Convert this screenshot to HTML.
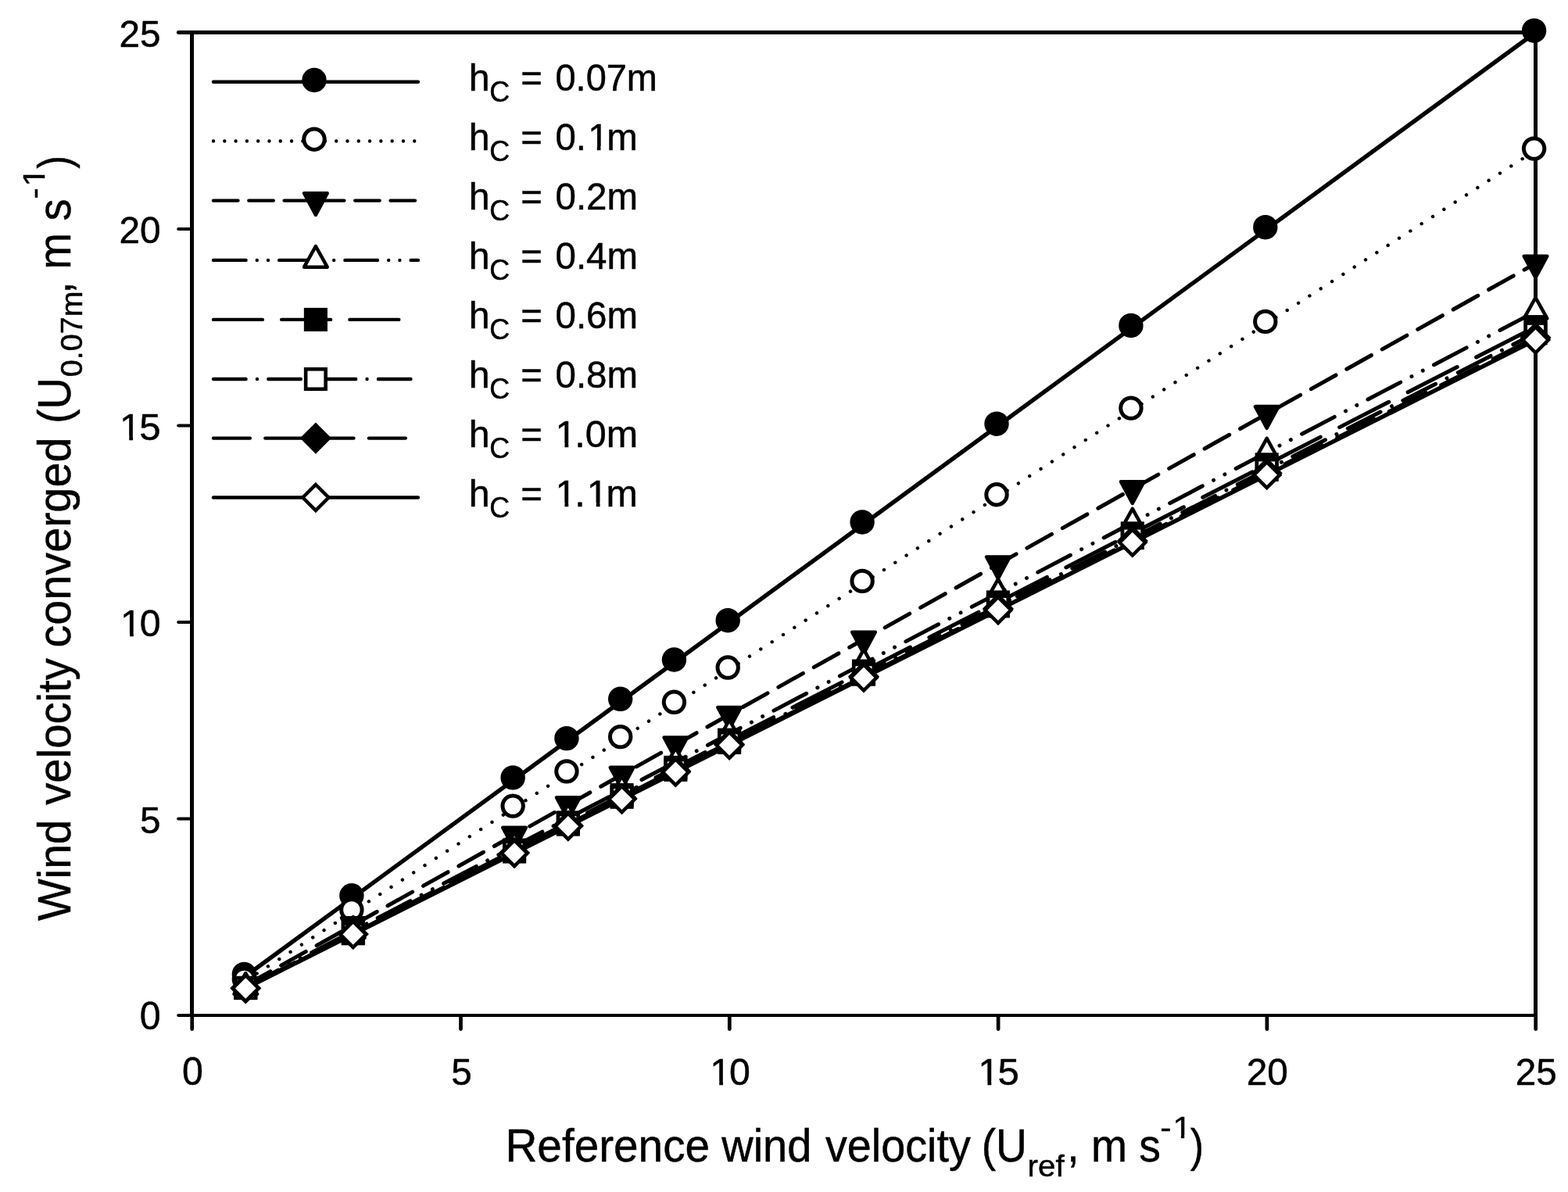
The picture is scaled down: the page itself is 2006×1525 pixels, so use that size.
<!DOCTYPE html>
<html lang="en">
<head>
<meta charset="utf-8">
<title>Wind velocity converged vs reference wind velocity</title>
<style>
html,body{margin:0;padding:0;background:#fff;}
body{width:2006px;height:1525px;overflow:hidden;}
svg{display:block;}
</style>
</head>
<body>
<svg width="2006" height="1525" viewBox="0 0 2006 1525" role="img" aria-label="Wind velocity converged versus reference wind velocity for eight canopy heights">
<rect width="2006" height="1525" fill="#fff"/>
<g fill="#000">
<rect x="243" y="39" width="5" height="1262"/>
<rect x="1962" y="39" width="5" height="1262"/>
<rect x="243" y="39" width="1724" height="5"/>
<rect x="243" y="1297" width="1724" height="4"/>
</g>
<g>
<line x1="228.3" y1="1299" x2="245" y2="1299" stroke="#000" stroke-width="4.2" stroke-linecap="round"/>
<line x1="245.7" y1="1316.6" x2="245.7" y2="1300" stroke="#000" stroke-width="4.7" stroke-linecap="round"/>
<line x1="228.3" y1="1047.5" x2="245" y2="1047.5" stroke="#000" stroke-width="4.2" stroke-linecap="round"/>
<line x1="589.5" y1="1316.6" x2="589.5" y2="1300" stroke="#000" stroke-width="4.7" stroke-linecap="round"/>
<line x1="228.3" y1="796" x2="245" y2="796" stroke="#000" stroke-width="4.2" stroke-linecap="round"/>
<line x1="933.3" y1="1316.6" x2="933.3" y2="1300" stroke="#000" stroke-width="4.7" stroke-linecap="round"/>
<line x1="228.3" y1="544.5" x2="245" y2="544.5" stroke="#000" stroke-width="4.2" stroke-linecap="round"/>
<line x1="1277.1" y1="1316.6" x2="1277.1" y2="1300" stroke="#000" stroke-width="4.7" stroke-linecap="round"/>
<line x1="228.3" y1="293" x2="245" y2="293" stroke="#000" stroke-width="4.2" stroke-linecap="round"/>
<line x1="1620.9" y1="1316.6" x2="1620.9" y2="1300" stroke="#000" stroke-width="4.7" stroke-linecap="round"/>
<line x1="228.3" y1="41.5" x2="245" y2="41.5" stroke="#000" stroke-width="4.8" stroke-linecap="round"/>
<line x1="1964.7" y1="1316.6" x2="1964.7" y2="1300" stroke="#000" stroke-width="4.7" stroke-linecap="round"/>
</g>
<g font-family="'Liberation Sans', Arial, Helvetica, sans-serif" fill="#000" stroke="#000" stroke-width="0.5" stroke-linejoin="round" style="font-kerning:none">
<text transform="translate(178.78 1317) scale(0.9853 1)" font-size="49">0</text>
<text transform="translate(179.1 1065.5) scale(0.9726 1)" font-size="49">5</text>
<g transform="translate(151.93 814) scale(0.9852 1)"><text font-size="49" dx="2.21 -2.21">10</text><rect x="3.69" y="-4.71" width="10.59" height="7.46" fill="#fff" stroke="none"/><rect x="19.11" y="-4.71" width="9.81" height="7.46" fill="#fff" stroke="none"/></g>
<g transform="translate(150.9 562.5) scale(1.0047 1)"><text font-size="49" dx="2.21 -2.21">15</text><rect x="3.69" y="-4.71" width="10.59" height="7.46" fill="#fff" stroke="none"/><rect x="19.11" y="-4.71" width="9.81" height="7.46" fill="#fff" stroke="none"/></g>
<text transform="translate(152.51 311) scale(0.9743 1)" font-size="49">20</text>
<text transform="translate(152.61 59.5) scale(0.9723 1)" font-size="49">25</text>
<text transform="translate(233.03 1388) scale(0.9853 1)" font-size="49">0</text>
<text transform="translate(577.31 1388) scale(0.9726 1)" font-size="49">5</text>
<g transform="translate(906.13 1388) scale(0.9852 1)"><text font-size="49" dx="2.21 -2.21">10</text><rect x="3.69" y="-4.71" width="10.59" height="7.46" fill="#fff" stroke="none"/><rect x="19.11" y="-4.71" width="9.81" height="7.46" fill="#fff" stroke="none"/></g>
<g transform="translate(1249.1 1388) scale(1.0047 1)"><text font-size="49" dx="2.21 -2.21">15</text><rect x="3.69" y="-4.71" width="10.59" height="7.46" fill="#fff" stroke="none"/><rect x="19.11" y="-4.71" width="9.81" height="7.46" fill="#fff" stroke="none"/></g>
<text transform="translate(1594.71 1388) scale(0.9743 1)" font-size="49">20</text>
<text transform="translate(1938.71 1388) scale(0.9723 1)" font-size="49">25</text>
</g>
<g>
<line x1="314.26" y1="1248.7" x2="1964.5" y2="41.5" stroke="#000" stroke-width="5.4" stroke-linecap="round"/>
<circle cx="312.36" cy="1246.4" r="13.2" fill="#000" stroke="#000" stroke-width="5"/>
<circle cx="449.88" cy="1145.8" r="13.2" fill="#000" stroke="#000" stroke-width="5"/>
<circle cx="656.16" cy="994.9" r="13.2" fill="#000" stroke="#000" stroke-width="5"/>
<circle cx="724.92" cy="944.6" r="13.2" fill="#000" stroke="#000" stroke-width="5"/>
<circle cx="793.68" cy="894.3" r="13.2" fill="#000" stroke="#000" stroke-width="5"/>
<circle cx="862.44" cy="844" r="13.2" fill="#000" stroke="#000" stroke-width="5"/>
<circle cx="931.2" cy="793.7" r="13.2" fill="#000" stroke="#000" stroke-width="5"/>
<circle cx="1103.1" cy="667.95" r="13.2" fill="#000" stroke="#000" stroke-width="5"/>
<circle cx="1275" cy="542.2" r="13.2" fill="#000" stroke="#000" stroke-width="5"/>
<circle cx="1446.9" cy="416.45" r="13.2" fill="#000" stroke="#000" stroke-width="5"/>
<circle cx="1618.8" cy="290.7" r="13.2" fill="#000" stroke="#000" stroke-width="5"/>
<circle cx="1962.6" cy="39.2" r="13.2" fill="#000" stroke="#000" stroke-width="5"/>
</g>
<g>
<line x1="314.26" y1="1254.74" x2="1964.5" y2="192.4" stroke="#000" stroke-width="4.4" stroke-linecap="round" stroke-dasharray="0.01 17.03"/>
<circle cx="312.36" cy="1252.44" r="13.2" fill="#fff" stroke="#000" stroke-width="5"/>
<circle cx="449.88" cy="1163.91" r="13.2" fill="#fff" stroke="#000" stroke-width="5"/>
<circle cx="656.16" cy="1031.12" r="13.2" fill="#fff" stroke="#000" stroke-width="5"/>
<circle cx="724.92" cy="986.85" r="13.2" fill="#fff" stroke="#000" stroke-width="5"/>
<circle cx="793.68" cy="942.59" r="13.2" fill="#fff" stroke="#000" stroke-width="5"/>
<circle cx="862.44" cy="898.32" r="13.2" fill="#fff" stroke="#000" stroke-width="5"/>
<circle cx="931.2" cy="854.06" r="13.2" fill="#fff" stroke="#000" stroke-width="5"/>
<circle cx="1103.1" cy="743.4" r="13.2" fill="#fff" stroke="#000" stroke-width="5"/>
<circle cx="1275" cy="632.74" r="13.2" fill="#fff" stroke="#000" stroke-width="5"/>
<circle cx="1446.9" cy="522.08" r="13.2" fill="#fff" stroke="#000" stroke-width="5"/>
<circle cx="1618.8" cy="411.42" r="13.2" fill="#fff" stroke="#000" stroke-width="5"/>
<circle cx="1962.6" cy="190.1" r="13.2" fill="#fff" stroke="#000" stroke-width="5"/>
</g>
<g>
<line x1="314.26" y1="1260.52" x2="1964.5" y2="337.01" stroke="#000" stroke-width="5" stroke-linecap="round" stroke-dasharray="36.21 15.86"/>
<polygon points="299.46,1251.22 329.06,1251.22 314.26,1278.82" fill="#000" stroke="#000" stroke-width="4.5" stroke-linejoin="round"/>
<polygon points="436.98,1174.26 466.58,1174.26 451.78,1201.86" fill="#000" stroke="#000" stroke-width="4.5" stroke-linejoin="round"/>
<polygon points="643.26,1058.82 672.86,1058.82 658.06,1086.42" fill="#000" stroke="#000" stroke-width="4.5" stroke-linejoin="round"/>
<polygon points="712.02,1020.34 741.62,1020.34 726.82,1047.94" fill="#000" stroke="#000" stroke-width="4.5" stroke-linejoin="round"/>
<polygon points="780.78,981.86 810.38,981.86 795.58,1009.46" fill="#000" stroke="#000" stroke-width="4.5" stroke-linejoin="round"/>
<polygon points="849.54,943.38 879.14,943.38 864.34,970.98" fill="#000" stroke="#000" stroke-width="4.5" stroke-linejoin="round"/>
<polygon points="918.3,904.9 947.9,904.9 933.1,932.5" fill="#000" stroke="#000" stroke-width="4.5" stroke-linejoin="round"/>
<polygon points="1090.2,808.71 1119.8,808.71 1105,836.31" fill="#000" stroke="#000" stroke-width="4.5" stroke-linejoin="round"/>
<polygon points="1262.1,712.51 1291.7,712.51 1276.9,740.11" fill="#000" stroke="#000" stroke-width="4.5" stroke-linejoin="round"/>
<polygon points="1434,616.31 1463.6,616.31 1448.8,643.91" fill="#000" stroke="#000" stroke-width="4.5" stroke-linejoin="round"/>
<polygon points="1605.9,520.11 1635.5,520.11 1620.7,547.71" fill="#000" stroke="#000" stroke-width="4.5" stroke-linejoin="round"/>
<polygon points="1949.7,327.71 1979.3,327.71 1964.5,355.31" fill="#000" stroke="#000" stroke-width="4.5" stroke-linejoin="round"/>
</g>
<g>
<line x1="314.26" y1="1262.99" x2="1964.5" y2="398.63" stroke="#000" stroke-width="5" stroke-linecap="round" stroke-dasharray="47.1 16.08 0.01 16.08 0.01 16.06"/>
<polygon points="314.26,1245.09 329.06,1271.79 299.46,1271.79" fill="#fff" stroke="#000" stroke-width="4.5" stroke-linejoin="round"/>
<polygon points="451.78,1173.06 466.58,1199.76 436.98,1199.76" fill="#fff" stroke="#000" stroke-width="4.5" stroke-linejoin="round"/>
<polygon points="658.06,1065.01 672.86,1091.71 643.26,1091.71" fill="#fff" stroke="#000" stroke-width="4.5" stroke-linejoin="round"/>
<polygon points="726.82,1029 741.62,1055.7 712.02,1055.7" fill="#fff" stroke="#000" stroke-width="4.5" stroke-linejoin="round"/>
<polygon points="795.58,992.98 810.38,1019.68 780.78,1019.68" fill="#fff" stroke="#000" stroke-width="4.5" stroke-linejoin="round"/>
<polygon points="864.34,956.97 879.14,983.67 849.54,983.67" fill="#fff" stroke="#000" stroke-width="4.5" stroke-linejoin="round"/>
<polygon points="933.1,920.95 947.9,947.65 918.3,947.65" fill="#fff" stroke="#000" stroke-width="4.5" stroke-linejoin="round"/>
<polygon points="1105,830.92 1119.8,857.62 1090.2,857.62" fill="#fff" stroke="#000" stroke-width="4.5" stroke-linejoin="round"/>
<polygon points="1276.9,740.88 1291.7,767.58 1262.1,767.58" fill="#fff" stroke="#000" stroke-width="4.5" stroke-linejoin="round"/>
<polygon points="1448.8,650.84 1463.6,677.54 1434,677.54" fill="#fff" stroke="#000" stroke-width="4.5" stroke-linejoin="round"/>
<polygon points="1620.7,560.8 1635.5,587.5 1605.9,587.5" fill="#fff" stroke="#000" stroke-width="4.5" stroke-linejoin="round"/>
<polygon points="1964.5,380.73 1979.3,407.43 1949.7,407.43" fill="#fff" stroke="#000" stroke-width="4.5" stroke-linejoin="round"/>
</g>
<g>
<line x1="314.26" y1="1263.76" x2="1964.5" y2="418.12" stroke="#000" stroke-width="5" stroke-linecap="round" stroke-dasharray="70.89 27.39"/>
<rect x="301.51" y="1251.01" width="25.5" height="25.5" fill="#000" stroke="#000" stroke-width="4.6"/>
<rect x="439.03" y="1180.54" width="25.5" height="25.5" fill="#000" stroke="#000" stroke-width="4.6"/>
<rect x="645.31" y="1074.84" width="25.5" height="25.5" fill="#000" stroke="#000" stroke-width="4.6"/>
<rect x="714.07" y="1039.6" width="25.5" height="25.5" fill="#000" stroke="#000" stroke-width="4.6"/>
<rect x="782.83" y="1004.37" width="25.5" height="25.5" fill="#000" stroke="#000" stroke-width="4.6"/>
<rect x="851.59" y="969.13" width="25.5" height="25.5" fill="#000" stroke="#000" stroke-width="4.6"/>
<rect x="920.35" y="933.9" width="25.5" height="25.5" fill="#000" stroke="#000" stroke-width="4.6"/>
<rect x="1092.25" y="845.81" width="25.5" height="25.5" fill="#000" stroke="#000" stroke-width="4.6"/>
<rect x="1264.15" y="757.72" width="25.5" height="25.5" fill="#000" stroke="#000" stroke-width="4.6"/>
<rect x="1436.05" y="669.63" width="25.5" height="25.5" fill="#000" stroke="#000" stroke-width="4.6"/>
<rect x="1607.95" y="581.55" width="25.5" height="25.5" fill="#000" stroke="#000" stroke-width="4.6"/>
<rect x="1951.75" y="405.37" width="25.5" height="25.5" fill="#000" stroke="#000" stroke-width="4.6"/>
</g>
<g>
<line x1="314.26" y1="1264.09" x2="1964.5" y2="426.3" stroke="#000" stroke-width="5" stroke-linecap="round" stroke-dasharray="46.79 16.14 0.01 16.13"/>
<rect x="301.51" y="1251.34" width="25.5" height="25.5" fill="#fff" stroke="#000" stroke-width="4.6"/>
<rect x="439.03" y="1181.53" width="25.5" height="25.5" fill="#fff" stroke="#000" stroke-width="4.6"/>
<rect x="645.31" y="1076.8" width="25.5" height="25.5" fill="#fff" stroke="#000" stroke-width="4.6"/>
<rect x="714.07" y="1041.89" width="25.5" height="25.5" fill="#fff" stroke="#000" stroke-width="4.6"/>
<rect x="782.83" y="1006.98" width="25.5" height="25.5" fill="#fff" stroke="#000" stroke-width="4.6"/>
<rect x="851.59" y="972.08" width="25.5" height="25.5" fill="#fff" stroke="#000" stroke-width="4.6"/>
<rect x="920.35" y="937.17" width="25.5" height="25.5" fill="#fff" stroke="#000" stroke-width="4.6"/>
<rect x="1092.25" y="849.9" width="25.5" height="25.5" fill="#fff" stroke="#000" stroke-width="4.6"/>
<rect x="1264.15" y="762.63" width="25.5" height="25.5" fill="#fff" stroke="#000" stroke-width="4.6"/>
<rect x="1436.05" y="675.36" width="25.5" height="25.5" fill="#fff" stroke="#000" stroke-width="4.6"/>
<rect x="1607.95" y="588.09" width="25.5" height="25.5" fill="#fff" stroke="#000" stroke-width="4.6"/>
<rect x="1951.75" y="413.55" width="25.5" height="25.5" fill="#fff" stroke="#000" stroke-width="4.6"/>
</g>
<g>
<line x1="314.26" y1="1264.32" x2="1964.5" y2="431.95" stroke="#000" stroke-width="5" stroke-linecap="round" stroke-dasharray="52.69 21.79"/>
<polygon points="314.26,1247.42 331.16,1264.32 314.26,1281.22 297.36,1264.32" fill="#000" stroke="#000" stroke-width="4.5" stroke-linejoin="miter"/>
<polygon points="451.78,1178.05 468.68,1194.95 451.78,1211.85 434.88,1194.95" fill="#000" stroke="#000" stroke-width="4.5" stroke-linejoin="miter"/>
<polygon points="658.06,1074.01 674.96,1090.91 658.06,1107.81 641.16,1090.91" fill="#000" stroke="#000" stroke-width="4.5" stroke-linejoin="miter"/>
<polygon points="726.82,1039.33 743.72,1056.23 726.82,1073.13 709.92,1056.23" fill="#000" stroke="#000" stroke-width="4.5" stroke-linejoin="miter"/>
<polygon points="795.58,1004.65 812.48,1021.55 795.58,1038.45 778.68,1021.55" fill="#000" stroke="#000" stroke-width="4.5" stroke-linejoin="miter"/>
<polygon points="864.34,969.96 881.24,986.86 864.34,1003.76 847.44,986.86" fill="#000" stroke="#000" stroke-width="4.5" stroke-linejoin="miter"/>
<polygon points="933.1,935.28 950,952.18 933.1,969.08 916.2,952.18" fill="#000" stroke="#000" stroke-width="4.5" stroke-linejoin="miter"/>
<polygon points="1105,848.58 1121.9,865.48 1105,882.38 1088.1,865.48" fill="#000" stroke="#000" stroke-width="4.5" stroke-linejoin="miter"/>
<polygon points="1276.9,761.87 1293.8,778.77 1276.9,795.67 1260,778.77" fill="#000" stroke="#000" stroke-width="4.5" stroke-linejoin="miter"/>
<polygon points="1448.8,675.17 1465.7,692.07 1448.8,708.97 1431.9,692.07" fill="#000" stroke="#000" stroke-width="4.5" stroke-linejoin="miter"/>
<polygon points="1620.7,588.46 1637.6,605.36 1620.7,622.26 1603.8,605.36" fill="#000" stroke="#000" stroke-width="4.5" stroke-linejoin="miter"/>
<polygon points="1964.5,415.05 1981.4,431.95 1964.5,448.85 1947.6,431.95" fill="#000" stroke="#000" stroke-width="4.5" stroke-linejoin="miter"/>
</g>
<g>
<line x1="314.26" y1="1264.43" x2="1964.5" y2="434.85" stroke="#000" stroke-width="5.4" stroke-linecap="round"/>
<polygon points="314.26,1247.93 330.76,1264.43 314.26,1280.93 297.76,1264.43" fill="#fff" stroke="#000" stroke-width="4.5" stroke-linejoin="miter"/>
<polygon points="451.78,1178.8 468.28,1195.3 451.78,1211.8 435.28,1195.3" fill="#fff" stroke="#000" stroke-width="4.5" stroke-linejoin="miter"/>
<polygon points="658.06,1075.1 674.56,1091.6 658.06,1108.1 641.56,1091.6" fill="#fff" stroke="#000" stroke-width="4.5" stroke-linejoin="miter"/>
<polygon points="726.82,1040.54 743.32,1057.04 726.82,1073.54 710.32,1057.04" fill="#fff" stroke="#000" stroke-width="4.5" stroke-linejoin="miter"/>
<polygon points="795.58,1005.97 812.08,1022.47 795.58,1038.97 779.08,1022.47" fill="#fff" stroke="#000" stroke-width="4.5" stroke-linejoin="miter"/>
<polygon points="864.34,971.4 880.84,987.9 864.34,1004.4 847.84,987.9" fill="#fff" stroke="#000" stroke-width="4.5" stroke-linejoin="miter"/>
<polygon points="933.1,936.84 949.6,953.34 933.1,969.84 916.6,953.34" fill="#fff" stroke="#000" stroke-width="4.5" stroke-linejoin="miter"/>
<polygon points="1105,850.42 1121.5,866.92 1105,883.42 1088.5,866.92" fill="#fff" stroke="#000" stroke-width="4.5" stroke-linejoin="miter"/>
<polygon points="1276.9,764.01 1293.4,780.51 1276.9,797.01 1260.4,780.51" fill="#fff" stroke="#000" stroke-width="4.5" stroke-linejoin="miter"/>
<polygon points="1448.8,677.59 1465.3,694.09 1448.8,710.59 1432.3,694.09" fill="#fff" stroke="#000" stroke-width="4.5" stroke-linejoin="miter"/>
<polygon points="1620.7,591.18 1637.2,607.68 1620.7,624.18 1604.2,607.68" fill="#fff" stroke="#000" stroke-width="4.5" stroke-linejoin="miter"/>
<polygon points="1964.5,418.35 1981,434.85 1964.5,451.35 1948,434.85" fill="#fff" stroke="#000" stroke-width="4.5" stroke-linejoin="miter"/>
</g>
<g>
<line x1="273" y1="104.8" x2="534.9" y2="104.8" stroke="#000" stroke-width="4.4" stroke-linecap="round"/>
<circle cx="402" cy="102.5" r="13.2" fill="#000" stroke="#000" stroke-width="5"/>
<line x1="273" y1="180.5" x2="534.9" y2="180.5" stroke="#000" stroke-width="4.4" stroke-linecap="round" stroke-dasharray="0.01 14.28"/>
<circle cx="402" cy="178.2" r="13.2" fill="#fff" stroke="#000" stroke-width="5"/>
<line x1="273" y1="256.6" x2="534.9" y2="256.6" stroke="#000" stroke-width="4.4" stroke-linecap="round" stroke-dasharray="31.5 13.8"/>
<polygon points="389.1,247.3 418.7,247.3 403.9,274.9" fill="#000" stroke="#000" stroke-width="4.5" stroke-linejoin="round"/>
<line x1="273" y1="332.9" x2="534.9" y2="332.9" stroke="#000" stroke-width="4.4" stroke-linecap="round" stroke-dasharray="41.6 14.2 0.01 14.2 0.01 14.18"/>
<polygon points="403.9,315 418.7,341.7 389.1,341.7" fill="#fff" stroke="#000" stroke-width="4.5" stroke-linejoin="round"/>
<line x1="273" y1="408.9" x2="528" y2="408.9" stroke="#000" stroke-width="4.4" stroke-linecap="round" stroke-dasharray="62.9 24.3"/>
<rect x="391.15" y="396.15" width="25.5" height="25.5" fill="#000" stroke="#000" stroke-width="4.6"/>
<line x1="273" y1="485" x2="534.9" y2="485" stroke="#000" stroke-width="4.4" stroke-linecap="round" stroke-dasharray="41.6 14.35 0.01 14.34"/>
<rect x="391.15" y="472.25" width="25.5" height="25.5" fill="#fff" stroke="#000" stroke-width="4.6"/>
<line x1="273" y1="560.6" x2="530" y2="560.6" stroke="#000" stroke-width="4.4" stroke-linecap="round" stroke-dasharray="46.9 19.4"/>
<polygon points="403.9,543.7 420.8,560.6 403.9,577.5 387,560.6" fill="#000" stroke="#000" stroke-width="4.5" stroke-linejoin="miter"/>
<line x1="273" y1="636.5" x2="534.9" y2="636.5" stroke="#000" stroke-width="4.4" stroke-linecap="round"/>
<polygon points="403.9,620 420.4,636.5 403.9,653 387.4,636.5" fill="#fff" stroke="#000" stroke-width="4.5" stroke-linejoin="miter"/>
</g>
<g font-family="'Liberation Sans', Arial, Helvetica, sans-serif" fill="#000" stroke="#000" stroke-width="0.5" stroke-linejoin="round" style="font-kerning:none">
<text transform="translate(599.71 115.7) scale(0.9952 1)" font-size="48.4">h</text>
<text transform="translate(626.21 130.4) scale(0.9684 1)" font-size="37">C</text>
<text transform="translate(666.35 115.7) scale(0.9773 1)" font-size="48.4">=</text>
<text transform="translate(710.5 115.7) scale(0.9703 1)" font-size="48.4">0.07m</text>
<text transform="translate(599.71 191.7) scale(0.9952 1)" font-size="48.4">h</text>
<text transform="translate(626.21 206.4) scale(0.9684 1)" font-size="37">C</text>
<text transform="translate(666.35 191.7) scale(0.9773 1)" font-size="48.4">=</text>
<g transform="translate(710.49 191.7) scale(0.9786 1)"><text font-size="48.4" dx="0 0 2.18 -2.18">0.1m</text><rect x="43.98" y="-4.67" width="10.48" height="7.42" fill="#fff" stroke="none"/><rect x="59.24" y="-4.67" width="9.71" height="7.42" fill="#fff" stroke="none"/></g>
<text transform="translate(599.71 267.7) scale(0.9952 1)" font-size="48.4">h</text>
<text transform="translate(626.21 282.4) scale(0.9684 1)" font-size="37">C</text>
<text transform="translate(666.35 267.7) scale(0.9773 1)" font-size="48.4">=</text>
<text transform="translate(710.48 267.7) scale(0.9810 1)" font-size="48.4">0.2m</text>
<text transform="translate(599.71 343.7) scale(0.9952 1)" font-size="48.4">h</text>
<text transform="translate(626.21 358.4) scale(0.9684 1)" font-size="37">C</text>
<text transform="translate(666.35 343.7) scale(0.9773 1)" font-size="48.4">=</text>
<text transform="translate(710.48 343.7) scale(0.9810 1)" font-size="48.4">0.4m</text>
<text transform="translate(599.71 419.7) scale(0.9952 1)" font-size="48.4">h</text>
<text transform="translate(626.21 434.4) scale(0.9684 1)" font-size="37">C</text>
<text transform="translate(666.35 419.7) scale(0.9773 1)" font-size="48.4">=</text>
<text transform="translate(710.48 419.7) scale(0.9810 1)" font-size="48.4">0.6m</text>
<text transform="translate(599.71 495.7) scale(0.9952 1)" font-size="48.4">h</text>
<text transform="translate(626.21 510.4) scale(0.9684 1)" font-size="37">C</text>
<text transform="translate(666.35 495.7) scale(0.9773 1)" font-size="48.4">=</text>
<text transform="translate(710.48 495.7) scale(0.9810 1)" font-size="48.4">0.8m</text>
<text transform="translate(599.71 571.7) scale(0.9952 1)" font-size="48.4">h</text>
<text transform="translate(626.21 586.4) scale(0.9684 1)" font-size="37">C</text>
<text transform="translate(666.35 571.7) scale(0.9773 1)" font-size="48.4">=</text>
<g transform="translate(708.36 571.7) scale(1.0014 1)"><text font-size="48.4" dx="2.18 -2.18">1.0m</text><rect x="3.61" y="-4.67" width="10.48" height="7.42" fill="#fff" stroke="none"/><rect x="18.88" y="-4.67" width="9.71" height="7.42" fill="#fff" stroke="none"/></g>
<text transform="translate(599.71 647.7) scale(0.9952 1)" font-size="48.4">h</text>
<text transform="translate(626.21 662.4) scale(0.9684 1)" font-size="37">C</text>
<text transform="translate(666.35 647.7) scale(0.9773 1)" font-size="48.4">=</text>
<g transform="translate(708.37 647.7) scale(0.9988 1)"><text font-size="48.4" dx="2.18 -2.18 2.18 -2.18">1.1m</text><rect x="3.61" y="-4.67" width="10.48" height="7.42" fill="#fff" stroke="none"/><rect x="18.88" y="-4.67" width="9.71" height="7.42" fill="#fff" stroke="none"/><rect x="43.98" y="-4.67" width="10.48" height="7.42" fill="#fff" stroke="none"/><rect x="59.24" y="-4.67" width="9.71" height="7.42" fill="#fff" stroke="none"/></g>
</g>
<g font-family="'Liberation Sans', Arial, Helvetica, sans-serif" fill="#000" stroke="#000" stroke-width="0.5" stroke-linejoin="round" style="font-kerning:none">
<text transform="translate(646.4 1485.9) scale(0.9533 1)" font-size="59.5">Reference</text>
<text transform="translate(923.14 1485.9) scale(0.9426 1)" font-size="59.5">wind</text>
<text transform="translate(1056 1485.9) scale(0.9370 1)" font-size="59.5">velocity</text>
<text transform="translate(1255.71 1485.9) scale(0.9280 1)" font-size="59.5">(U</text>
<text transform="translate(1314.57 1504.9) scale(1.0345 1)" font-size="39">ref</text>
<text transform="translate(1365.36 1485.9) scale(0.9279 1)" font-size="59.5">, m s</text>
<g transform="translate(1484.26 1455.9) scale(1.0955 1)"><text font-size="39" dx="0 1.75">-1</text><rect x="15.46" y="-3.96" width="8.84" height="6.71" fill="#fff" stroke="none"/><rect x="28.25" y="-3.96" width="8.13" height="6.71" fill="#fff" stroke="none"/></g>
<text transform="translate(1522.7 1485.9) scale(0.8738 1)" font-size="59.5">)</text>
<text transform="translate(90 1178.1) rotate(-90) scale(0.9561 1)" font-size="59.5">Wind</text>
<text transform="translate(90 1029.8) rotate(-90) scale(0.9461 1)" font-size="59.5">velocity</text>
<text transform="translate(90 828.48) rotate(-90) scale(0.9680 1)" font-size="59.5">converged</text>
<text transform="translate(90 542.09) rotate(-90) scale(0.9400 1)" font-size="59.5">(U</text>
<text transform="translate(104.8 482.17) rotate(-90) scale(1.0129 1)" font-size="39">0.07m</text>
<text transform="translate(90 375.81) rotate(-90) scale(0.9426 1)" font-size="59.5">, m s</text>
<g transform="translate(56.8 254.53) rotate(-90) scale(1.0880 1)"><text font-size="39" dx="0 1.75">-1</text><rect x="15.46" y="-3.96" width="8.84" height="6.71" fill="#fff" stroke="none"/><rect x="28.25" y="-3.96" width="8.13" height="6.71" fill="#fff" stroke="none"/></g>
<text transform="translate(90 215.7) rotate(-90) scale(0.8394 1)" font-size="59.5">)</text>
</g>
</svg>
</body>
</html>
